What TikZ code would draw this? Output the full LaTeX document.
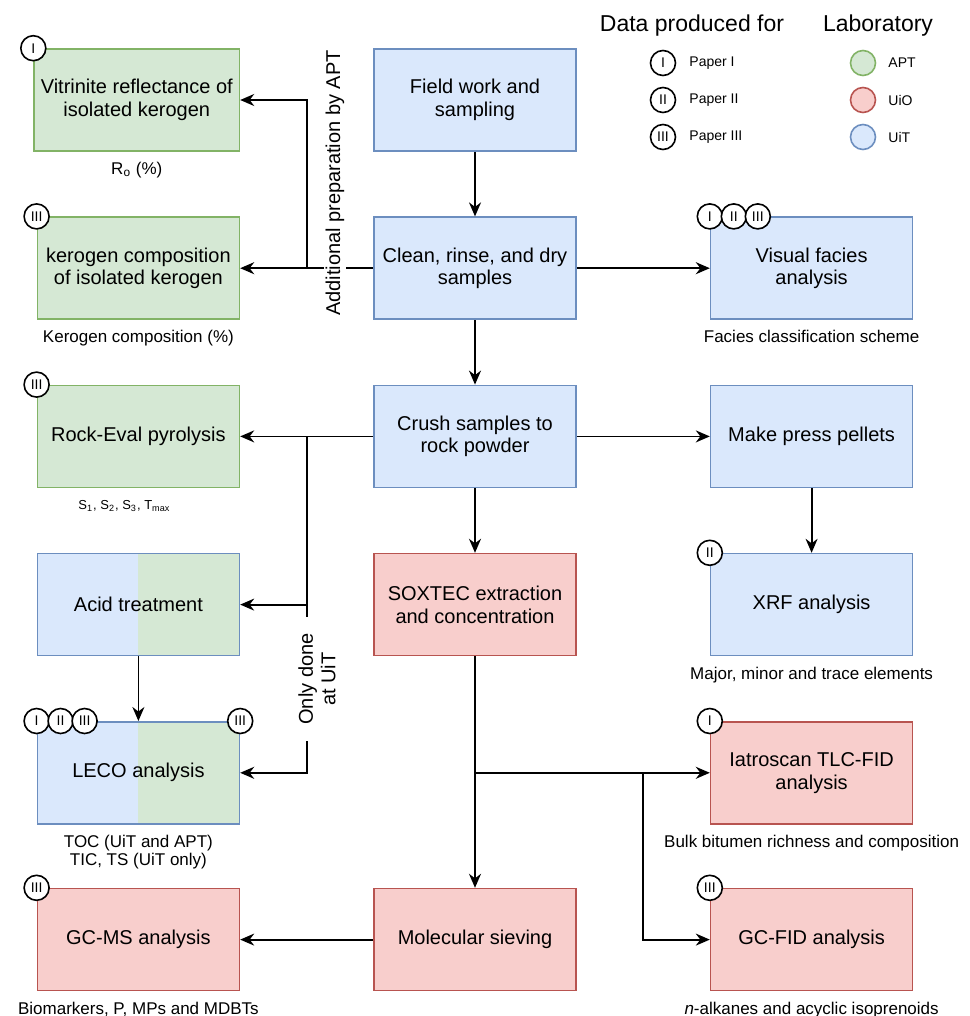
\documentclass[tikz,border=0pt]{standalone}
\usepackage{fontspec}
\setmainfont{Liberation Sans}
\usetikzlibrary{positioning,calc,arrows.meta}
\definecolor{aptfill}{HTML}{D5E8D4}
\definecolor{aptline}{HTML}{82B366}
\definecolor{uiofill}{HTML}{F8CECC}
\definecolor{uioline}{HTML}{B85450}
\definecolor{uitfill}{HTML}{DAE8FC}
\definecolor{uitline}{HTML}{6C8EBF}
\tikzset{
  box/.style={rectangle, minimum width=101pt, minimum height=51pt, line width=0.8pt,
    align=center, font=\fontsize{10}{11.3}\selectfont},
  apt/.style={box, fill=aptfill, draw=aptline},
  uio/.style={box, fill=uiofill, draw=uioline},
  uit/.style={box, fill=uitfill, draw=uitline},
  mixed/.style={box, draw=uitline, path picture={
    \fill[uitfill] (path picture bounding box.south west) rectangle (path picture bounding box.north);
    \fill[aptfill] (path picture bounding box.south) rectangle (path picture bounding box.north east);}},
  badge/.style={circle, draw, fill=white, line width=0.8pt, minimum size=12.5pt, inner sep=0pt,
    font=\fontsize{7}{7}\selectfont},
  dot/.style={circle, line width=0.8pt, minimum size=12.5pt, inner sep=0pt},
  result/.style={align=center, inner sep=0pt, font=\fontsize{8.5}{8.9}\selectfont},
  legtext/.style={anchor=west, inner sep=0pt, font=\fontsize{7}{8}\selectfont},
  legtitle/.style={inner sep=0pt, font=\fontsize{11.5}{13}\selectfont},
  note/.style={rotate=90, fill=white, align=center, font=\fontsize{10}{11.3}\selectfont},
  arr/.style={-{Stealth[length=7pt,width=6pt]}, line width=0.9pt},
}
\begin{document}
\begin{tikzpicture}[x=0.5pt, y=-0.5pt, node distance=32.3pt and 66.5pt]
\useasboundingbox (0,0) rectangle (969,1016);
%% middle column
\node[uit] (field) at (475,100) {Field work and\\sampling};
\node[uit, below=of field] (clean) {Clean, rinse, and dry\\samples};
\node[uit, below=of clean] (crush) {Crush samples to\\rock powder};
\node[uio, below=of crush] (soxtec) {SOXTEC extraction\\and concentration};
\node[uio, below=115.7pt of soxtec] (sieve) {Molecular sieving};
%% left column
\node[apt, left=of field] (vit) {Vitrinite reflectance of\\isolated kerogen};
\node[apt, left=of clean] (kerogen) {kerogen composition\\of isolated kerogen};
\node[apt, left=of crush] (rock) {Rock-Eval pyrolysis};
\node[mixed, left=of soxtec] (acid) {Acid treatment};
\node[mixed, below=of acid] (leco) {LECO analysis};
\node[uio, left=of sieve] (gcms) {GC-MS analysis};
%% right column
\node[uit, right=of clean] (facies) {Visual facies\\analysis};
\node[uit, right=of crush] (pellets) {Make press pellets};
\node[uit, right=of soxtec] (xrf) {XRF analysis};
\node[uio, below=of xrf] (iatro) {Iatroscan TLC-FID\\analysis};
\node[uio, right=of sieve] (gcfid) {GC-FID analysis};

%% data below the boxes
\node[result, below=5pt of vit] (vitres) {R\textsubscript{o} (\%)};
\node[result, below=5pt of kerogen] (kerogenres) {Kerogen composition (\%)};
\node[result, below=6pt of rock, xshift=-7pt, font=\fontsize{6.5}{7}\selectfont] (rockres)
  {S\textsubscript{1}, S\textsubscript{2}, S\textsubscript{3}, T\textsubscript{max}};
\node[result, below=5pt of leco] (lecores) {TOC (UiT and APT)\\TIC, TS (UiT only)};
\node[result, below=5pt of gcms] (gcmsres) {Biomarkers, P, MPs and MDBTs};
\node[result, below=5pt of facies] (faciesres) {Facies classification scheme};
\node[result, below=5pt of xrf] (xrfres) {Major, minor and trace elements};
\node[result, below=5pt of iatro] (iatrores) {Bulk bitumen richness and composition};
\node[result, below=5pt of gcfid] (gcfidres) {\textit{n}-alkanes and acyclic isoprenoids};

%% connectors
\draw[arr] (field) -- (clean);
\draw[arr] (clean) -- (crush);
\draw[arr] (crush) -- (soxtec);
\draw[arr] (soxtec) -- (sieve);
\draw[arr] (clean) -- (facies);
\draw[arr] (crush) -- (pellets);
\draw[arr] (pellets) -- (xrf);
\draw[arr] (acid) -- (leco);
\draw[arr] (sieve) -- (gcms);
\draw[arr] (clean) -- (kerogen);
\draw[arr] (crush) -- (rock);
\coordinate (aptsplit) at ($(clean.west)!0.5!(kerogen.east)$);
\draw[arr] (aptsplit) |- (vit.east);
\coordinate (uitsplit) at ($(crush.west)!0.5!(rock.east)$);
\draw[arr] (uitsplit) |- (acid.east);
\draw[arr] (uitsplit) |- (leco.east);
\coordinate (soxsplit) at (soxtec.south |- iatro.west);
\draw[arr] (soxsplit) -- (iatro.west);
\coordinate (fidx) at ($(sieve.east)!0.5!(gcfid.west)$);
\coordinate (fidsplit) at (fidx |- iatro.west);
\draw[arr] (fidsplit) |- (gcfid.west);

%% notes on the lines
\node[note, inner sep=1pt] (aptnote) at (335,183) {Additional preparation by APT};
\node[note, inner xsep=8pt, inner ysep=1pt] (uitnote) at (317,679) {Only done\\at UiT};

%% paper badges
\node[badge] (vitb) at (vit.north west) {I};
\node[badge] (kerogenb) at (kerogen.north west) {III};
\node[badge] (rockb) at (rock.north west) {III};
\node[badge] (xrfb) at (xrf.north west) {II};
\node[badge] (iatrob) at (iatro.north west) {I};
\node[badge] (gcmsb) at (gcms.north west) {III};
\node[badge] (gcfidb) at (gcfid.north west) {III};
\node[badge] (lecob3) at (leco.north east) {III};
\foreach \n [count=\i from 0] in {I,II,III} {
  \node[badge] (faciesb\i) at ([xshift=\i*12pt]facies.north west) {\n};
  \node[badge] (lecob\i) at ([xshift=\i*12pt]leco.north west) {\n};
}

%% legend
\node[legtitle] (papertitle) at (692,26) {Data produced for};
\node[legtitle] (labtitle) at (878,26) {Laboratory};
\foreach \n/\y in {I/63,II/100,III/137} {
  \node[badge] (legb\n) at (663,\y) {\n};
  \node[legtext] (legp\n) at (689,\y) {Paper \n};
}
\foreach \lab/\fc/\lc/\y in {APT/aptfill/aptline/63,UiO/uiofill/uioline/100,UiT/uitfill/uitline/137} {
  \node[dot, fill=\fc, draw=\lc] (legd\lab) at (863,\y) {};
  \node[legtext] (legl\lab) at (888,\y) {\lab};
}
\end{tikzpicture}
\end{document}
